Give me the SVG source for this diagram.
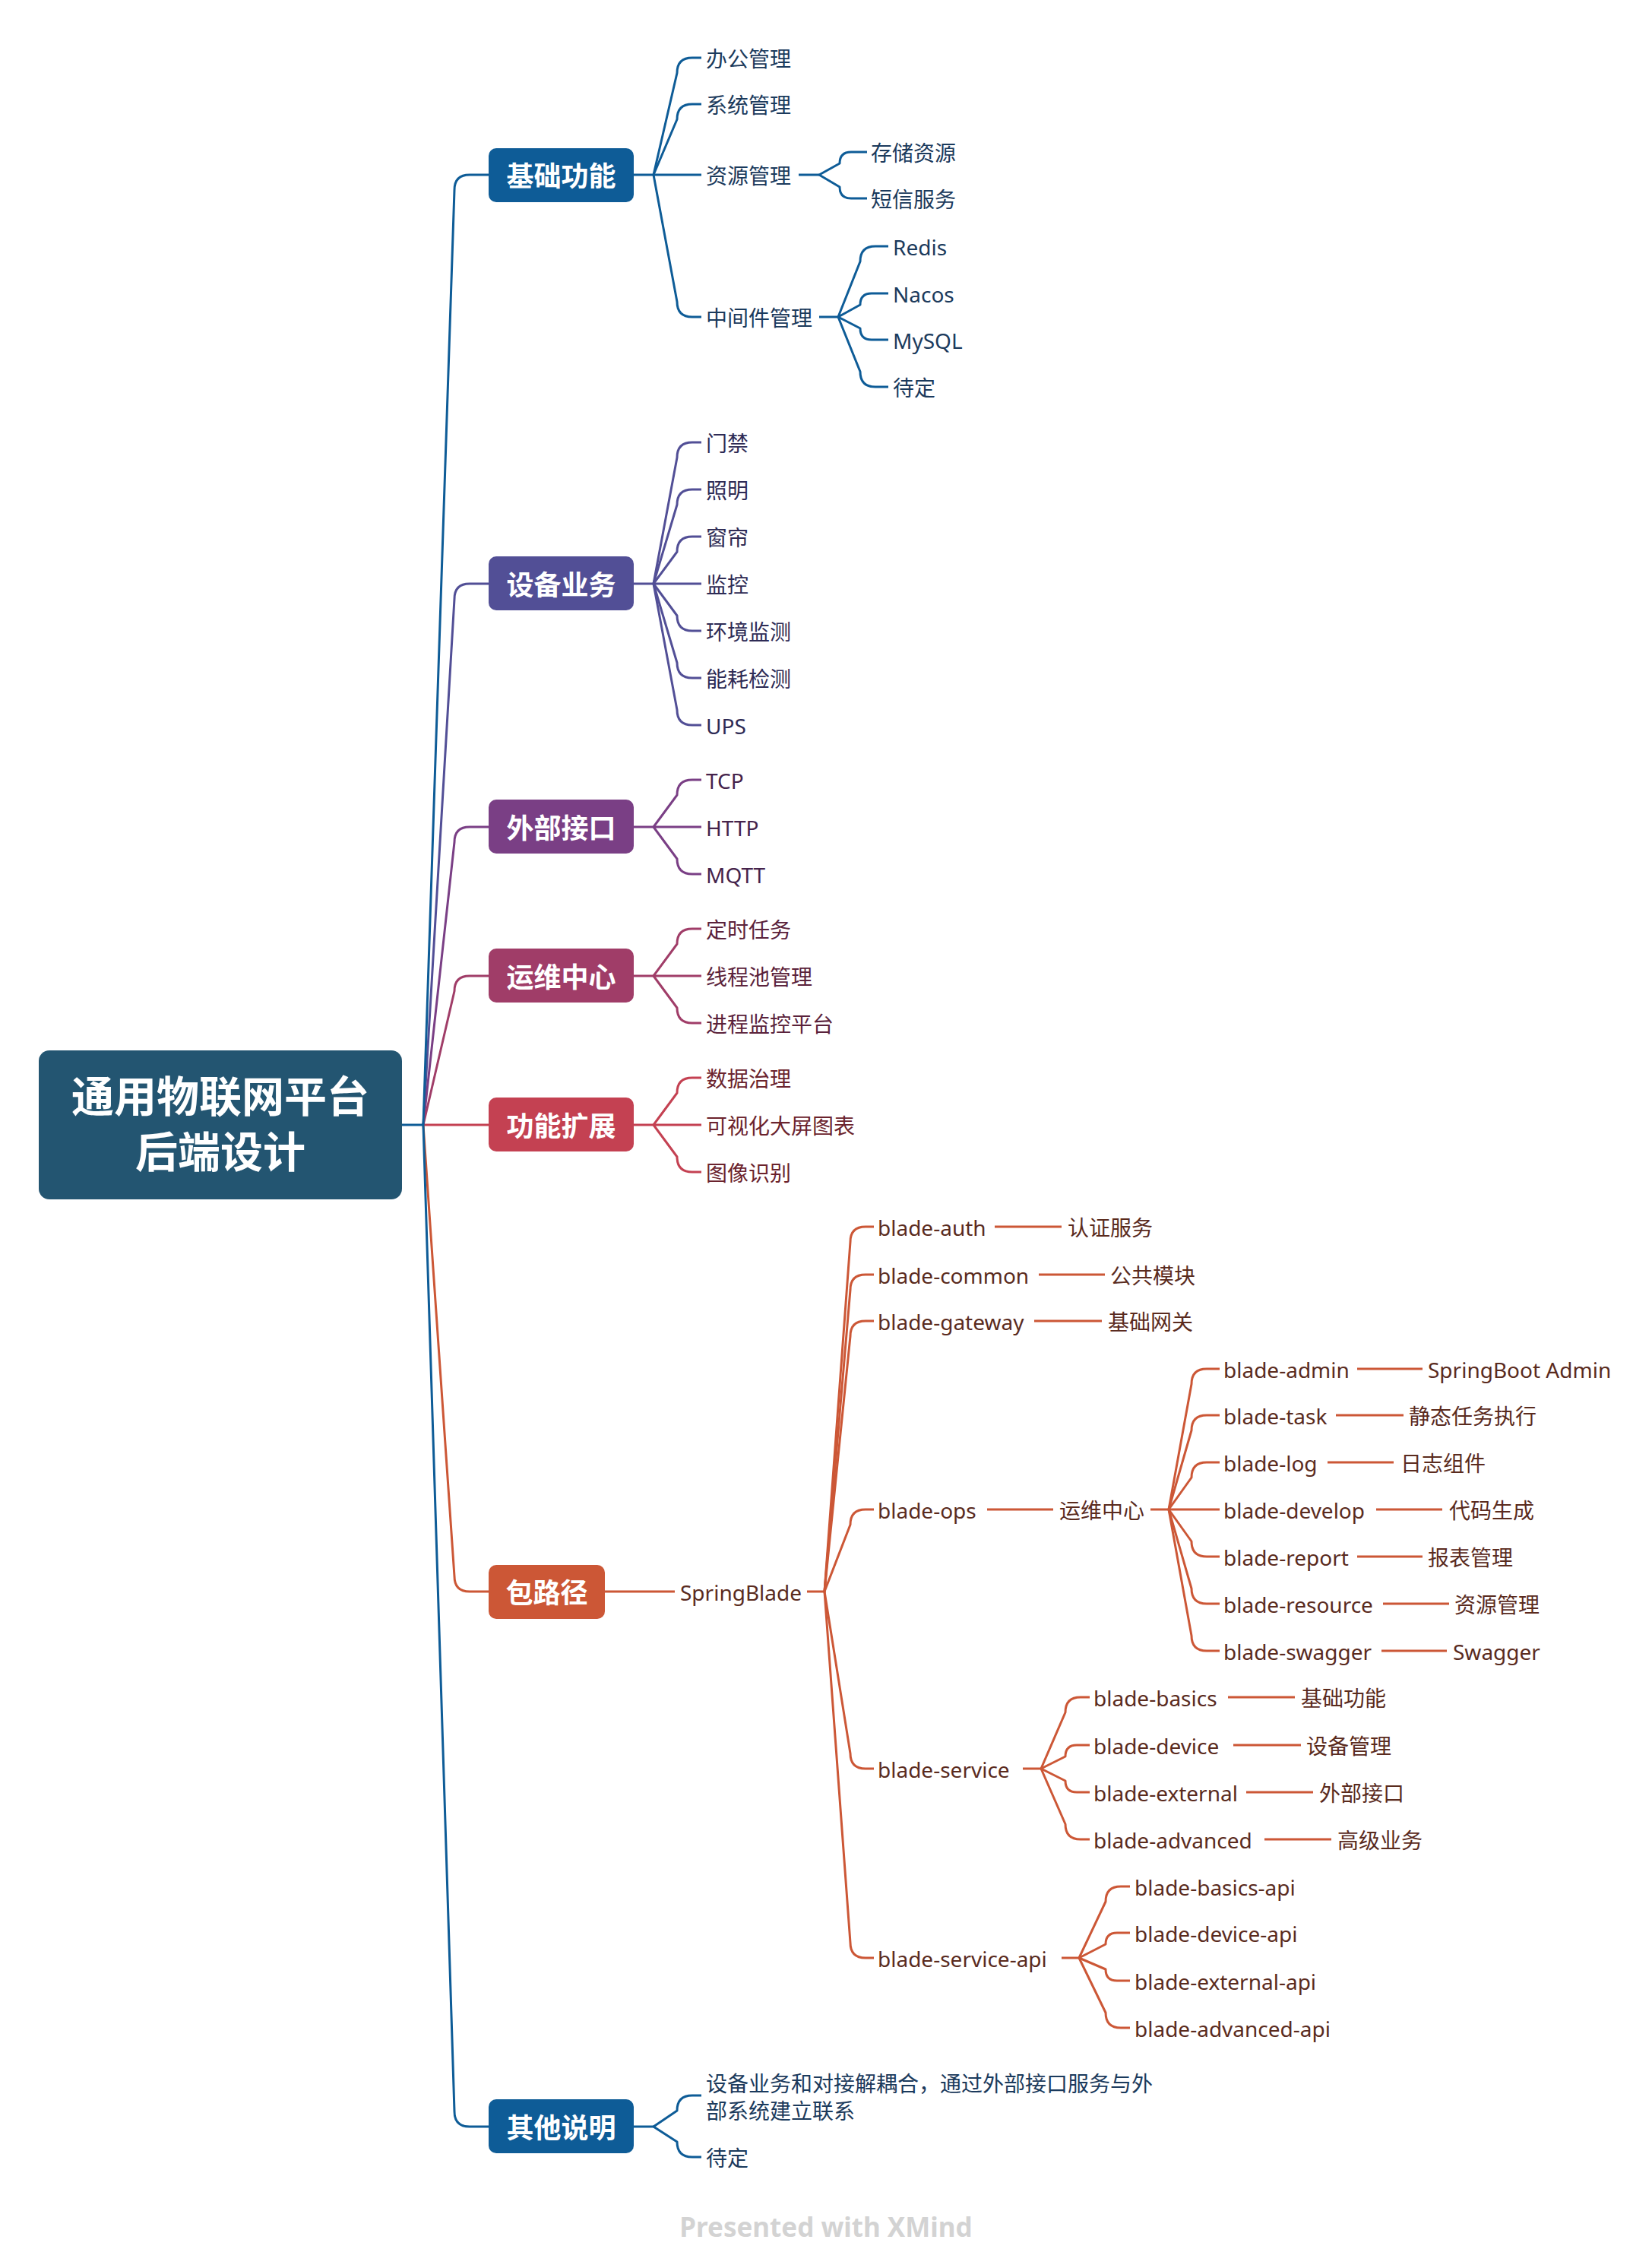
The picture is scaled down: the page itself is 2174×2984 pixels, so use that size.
<svg xmlns="http://www.w3.org/2000/svg" width="2174" height="2984" viewBox="0 0 2174 2984">
<style>
  .ln{fill:none;stroke-width:3;stroke-linejoin:round}
  .b1{stroke:#0E5C97}.b2{stroke:#524F96}.b3{stroke:#7A3F85}.b4{stroke:#A03D68}.b5{stroke:#C44152}.b6{stroke:#CC5736}
  .t{font-family:"Noto Sans","Noto Sans CJK SC",sans-serif;font-size:28px}
  .f1{fill:#1B3A5C}.f2{fill:#2E2B55}.f3{fill:#45234B}.f4{fill:#5A223B}.f5{fill:#6B232D}.f6{fill:#5A2B1E}
  .mt{font-family:"Noto Sans CJK SC","Noto Sans",sans-serif;font-size:36px;font-weight:bold;fill:#FFFFFF;text-anchor:middle}
  .ct{font-family:"Noto Sans CJK SC","Noto Sans",sans-serif;font-size:56px;font-weight:bold;fill:#FFFFFF;text-anchor:middle}
</style>

<g id="connectors">
  <!-- main branches -->
  <path class="ln b5" d="M557,1480 H643"/>
  <path class="ln b2" d="M557,1480 L598,788 Q598,768 618,768 H643"/>
  <path class="ln b3" d="M557,1480 L598,1108 Q598,1088 618,1088 H643"/>
  <path class="ln b4" d="M557,1480 L598,1304 Q598,1284 618,1284 H643"/>
  <path class="ln b6" d="M557,1480 L598,2074 Q598,2094 618,2094 H643"/>
  <path class="ln b1" d="M557,1480 L598,2778 Q598,2798 618,2798 H643"/>
  <path class="ln b1" d="M557,1480 L598,250 Q598,230 618,230 H643"/>
  <path class="ln b1" d="M529,1480 H557"/>

  <!-- 基础功能 -->
  <path class="ln b1" d="M834,230 H860"/>
  <path class="ln b1" d="M860,230 L891,96 Q891,76 911,76 H923"/>
  <path class="ln b1" d="M860,230 L891,157 Q891,137 911,137 H923"/>
  <path class="ln b1" d="M860,230 H923"/>
  <path class="ln b1" d="M860,230 L891,397 Q891,417 911,417 H923"/>
  <path class="ln b1" d="M1051,230 H1078"/>
  <path class="ln b1" d="M1078,230 L1105,215 Q1105,200 1120,200 H1141"/>
  <path class="ln b1" d="M1078,230 L1105,246 Q1105,261 1120,261 H1141"/>
  <path class="ln b1" d="M1078,417 H1103"/>
  <path class="ln b1" d="M1103,417 L1132,344 Q1132,324 1152,324 H1169"/>
  <path class="ln b1" d="M1103,417 L1132,401 Q1132,386 1147,386 H1169"/>
  <path class="ln b1" d="M1103,417 L1132,432 Q1132,447 1147,447 H1169"/>
  <path class="ln b1" d="M1103,417 L1132,489 Q1132,509 1152,509 H1169"/>

  <!-- 设备业务 -->
  <path class="ln b2" d="M834,768 H860"/>
  <path class="ln b2" d="M860,768 L891,602 Q891,582 911,582 H923"/>
  <path class="ln b2" d="M860,768 L891,664 Q891,644 911,644 H923"/>
  <path class="ln b2" d="M860,768 L891,726 Q891,706 911,706 H923"/>
  <path class="ln b2" d="M860,768 H923"/>
  <path class="ln b2" d="M860,768 L891,810 Q891,830 911,830 H923"/>
  <path class="ln b2" d="M860,768 L891,872 Q891,892 911,892 H923"/>
  <path class="ln b2" d="M860,768 L891,934 Q891,954 911,954 H923"/>

  <!-- 外部接口 -->
  <path class="ln b3" d="M834,1088 H860"/>
  <path class="ln b3" d="M860,1088 L891,1046 Q891,1026 911,1026 H923"/>
  <path class="ln b3" d="M860,1088 H923"/>
  <path class="ln b3" d="M860,1088 L891,1130 Q891,1150 911,1150 H923"/>

  <!-- 运维中心 -->
  <path class="ln b4" d="M834,1284 H860"/>
  <path class="ln b4" d="M860,1284 L891,1242 Q891,1222 911,1222 H923"/>
  <path class="ln b4" d="M860,1284 H923"/>
  <path class="ln b4" d="M860,1284 L891,1326 Q891,1346 911,1346 H923"/>

  <!-- 功能扩展 -->
  <path class="ln b5" d="M834,1480 H860"/>
  <path class="ln b5" d="M860,1480 L891,1438 Q891,1418 911,1418 H923"/>
  <path class="ln b5" d="M860,1480 H923"/>
  <path class="ln b5" d="M860,1480 L891,1522 Q891,1542 911,1542 H923"/>

  <!-- 包路径 -->
  <path class="ln b6" d="M796,2094 H888"/>
  <path class="ln b6" d="M1062,2094 H1085"/>
  <path class="ln b6" d="M1085,2094 L1119,1634 Q1119,1614 1139,1614 H1150"/>
  <path class="ln b6" d="M1085,2094 L1119,1697 Q1119,1677 1139,1677 H1150"/>
  <path class="ln b6" d="M1085,2094 L1119,1758 Q1119,1738 1139,1738 H1150"/>
  <path class="ln b6" d="M1085,2094 L1119,2006 Q1119,1986 1139,1986 H1150"/>
  <path class="ln b6" d="M1085,2094 L1119,2307 Q1119,2327 1139,2327 H1150"/>
  <path class="ln b6" d="M1085,2094 L1119,2556 Q1119,2576 1139,2576 H1150"/>
  <path class="ln b6" d="M1309,1614 H1397"/>
  <path class="ln b6" d="M1367,1677 H1454"/>
  <path class="ln b6" d="M1361,1738 H1450"/>
  <path class="ln b6" d="M1299,1986 H1386"/>
  <path class="ln b6" d="M1514,1986 H1538"/>
  <path class="ln b6" d="M1538,1986 L1568,1821 Q1568,1801 1588,1801 H1605"/>
  <path class="ln b6" d="M1538,1986 L1568,1882 Q1568,1862 1588,1862 H1605"/>
  <path class="ln b6" d="M1538,1986 L1568,1944 Q1568,1924 1588,1924 H1605"/>
  <path class="ln b6" d="M1538,1986 H1605"/>
  <path class="ln b6" d="M1538,1986 L1568,2028 Q1568,2048 1588,2048 H1605"/>
  <path class="ln b6" d="M1538,1986 L1568,2090 Q1568,2110 1588,2110 H1605"/>
  <path class="ln b6" d="M1538,1986 L1568,2152 Q1568,2172 1588,2172 H1605"/>
  <path class="ln b6" d="M1786,1801 H1872"/>
  <path class="ln b6" d="M1758,1862 H1847"/>
  <path class="ln b6" d="M1747,1924 H1834"/>
  <path class="ln b6" d="M1811,1986 H1898"/>
  <path class="ln b6" d="M1786,2048 H1872"/>
  <path class="ln b6" d="M1820,2110 H1907"/>
  <path class="ln b6" d="M1818,2172 H1904"/>
  <path class="ln b6" d="M1346,2327 H1370"/>
  <path class="ln b6" d="M1370,2327 L1402,2253 Q1402,2233 1422,2233 H1434"/>
  <path class="ln b6" d="M1370,2327 L1402,2311 Q1402,2296 1417,2296 H1434"/>
  <path class="ln b6" d="M1370,2327 L1402,2343 Q1402,2358 1417,2358 H1434"/>
  <path class="ln b6" d="M1370,2327 L1402,2400 Q1402,2420 1422,2420 H1434"/>
  <path class="ln b6" d="M1616,2233 H1704"/>
  <path class="ln b6" d="M1623,2296 H1712"/>
  <path class="ln b6" d="M1640,2358 H1728"/>
  <path class="ln b6" d="M1664,2420 H1752"/>
  <path class="ln b6" d="M1397,2576 H1420"/>
  <path class="ln b6" d="M1420,2576 L1455,2502 Q1455,2482 1475,2482 H1487"/>
  <path class="ln b6" d="M1420,2576 L1455,2558 Q1455,2543 1470,2543 H1487"/>
  <path class="ln b6" d="M1420,2576 L1455,2591 Q1455,2606 1470,2606 H1487"/>
  <path class="ln b6" d="M1420,2576 L1455,2648 Q1455,2668 1475,2668 H1487"/>

  <!-- 其他说明 -->
  <path class="ln b1" d="M834,2798 H860"/>
  <path class="ln b1" d="M860,2798 L891,2777 Q891,2757 911,2757 H923"/>
  <path class="ln b1" d="M860,2798 L891,2818 Q891,2838 911,2838 H923"/>
</g>

<g id="central">
  <rect x="51" y="1382" width="478" height="196" rx="14" fill="#235571"/>
  <text class="ct" x="290" y="1463">通用物联网平台</text>
  <text class="ct" x="290" y="1536">后端设计</text>
</g>

<g id="node-jichu">
  <rect x="643" y="195" width="191" height="71" rx="10" fill="#0E5C97"/>
  <text class="mt" x="738.5" y="245">基础功能</text>
</g>
<g id="jichu-children" class="t f1">
  <text x="929" y="88">办公管理</text>
  <text x="929" y="149">系统管理</text>
  <text x="929" y="242">资源管理</text>
  <text x="1146" y="212">存储资源</text>
  <text x="1146" y="273">短信服务</text>
  <text x="929" y="429">中间件管理</text>
  <text x="1175" y="336">Redis</text>
  <text x="1175" y="398">Nacos</text>
  <text x="1175" y="459">MySQL</text>
  <text x="1175" y="521">待定</text>
</g>

<g id="node-shebei">
  <rect x="643" y="732" width="191" height="71" rx="10" fill="#524F96"/>
  <text class="mt" x="738.5" y="783">设备业务</text>
</g>
<g id="shebei-children" class="t f2">
  <text x="929" y="594">门禁</text>
  <text x="929" y="656">照明</text>
  <text x="929" y="718">窗帘</text>
  <text x="929" y="780">监控</text>
  <text x="929" y="842">环境监测</text>
  <text x="929" y="904">能耗检测</text>
  <text x="929" y="966">UPS</text>
</g>

<g id="node-waibu">
  <rect x="643" y="1052" width="191" height="71" rx="10" fill="#7A3F85"/>
  <text class="mt" x="738.5" y="1103">外部接口</text>
</g>
<g id="waibu-children" class="t f3">
  <text x="929" y="1038">TCP</text>
  <text x="929" y="1100">HTTP</text>
  <text x="929" y="1162">MQTT</text>
</g>

<g id="node-yunwei">
  <rect x="643" y="1248" width="191" height="71" rx="10" fill="#A03D68"/>
  <text class="mt" x="738.5" y="1299">运维中心</text>
</g>
<g id="yunwei-children" class="t f4">
  <text x="929" y="1234">定时任务</text>
  <text x="929" y="1296">线程池管理</text>
  <text x="929" y="1358">进程监控平台</text>
</g>

<g id="node-kuozhan">
  <rect x="643" y="1444" width="191" height="71" rx="10" fill="#C44152"/>
  <text class="mt" x="738.5" y="1495">功能扩展</text>
</g>
<g id="kuozhan-children" class="t f5">
  <text x="929" y="1430">数据治理</text>
  <text x="929" y="1492">可视化大屏图表</text>
  <text x="929" y="1554">图像识别</text>
</g>

<g id="node-baolujing">
  <rect x="643" y="2059" width="153" height="71" rx="10" fill="#CC5736"/>
  <text class="mt" x="719.5" y="2109">包路径</text>
</g>
<g id="baolujing-children" class="t f6">
  <text x="895" y="2106">SpringBlade</text>
  <text x="1155" y="1626">blade-auth</text>
  <text x="1405" y="1626">认证服务</text>
  <text x="1155" y="1689">blade-common</text>
  <text x="1461" y="1689">公共模块</text>
  <text x="1155" y="1750">blade-gateway</text>
  <text x="1458" y="1750">基础网关</text>
  <text x="1155" y="1998">blade-ops</text>
  <text x="1394" y="1998">运维中心</text>
  <text x="1610" y="1813">blade-admin</text>
  <text x="1879" y="1813">SpringBoot Admin</text>
  <text x="1610" y="1874">blade-task</text>
  <text x="1854" y="1874">静态任务执行</text>
  <text x="1610" y="1936">blade-log</text>
  <text x="1843" y="1936">日志组件</text>
  <text x="1610" y="1998">blade-develop</text>
  <text x="1907" y="1998">代码生成</text>
  <text x="1610" y="2060">blade-report</text>
  <text x="1879" y="2060">报表管理</text>
  <text x="1610" y="2122">blade-resource</text>
  <text x="1914" y="2122">资源管理</text>
  <text x="1610" y="2184">blade-swagger</text>
  <text x="1912" y="2184">Swagger</text>
  <text x="1155" y="2339">blade-service</text>
  <text x="1439" y="2245">blade-basics</text>
  <text x="1712" y="2245">基础功能</text>
  <text x="1439" y="2308">blade-device</text>
  <text x="1719" y="2308">设备管理</text>
  <text x="1439" y="2370">blade-external</text>
  <text x="1736" y="2370">外部接口</text>
  <text x="1439" y="2432">blade-advanced</text>
  <text x="1760" y="2432">高级业务</text>
  <text x="1155" y="2588">blade-service-api</text>
  <text x="1493" y="2494">blade-basics-api</text>
  <text x="1493" y="2555">blade-device-api</text>
  <text x="1493" y="2618">blade-external-api</text>
  <text x="1493" y="2680">blade-advanced-api</text>
</g>

<g id="node-qita">
  <rect x="643" y="2762" width="191" height="71" rx="10" fill="#0E5C97"/>
  <text class="mt" x="738.5" y="2813">其他说明</text>
</g>
<g id="qita-children" class="t f1">
  <text x="929" y="2752">设备业务和对接解耦合，通过外部接口服务与外</text>
  <text x="929" y="2788">部系统建立联系</text>
  <text x="929" y="2850">待定</text>
</g>

<text x="1087" y="2943" font-family="Noto Sans, sans-serif" font-size="35" font-weight="bold" fill="#D3D3D3" text-anchor="middle">Presented with XMind</text>
</svg>
